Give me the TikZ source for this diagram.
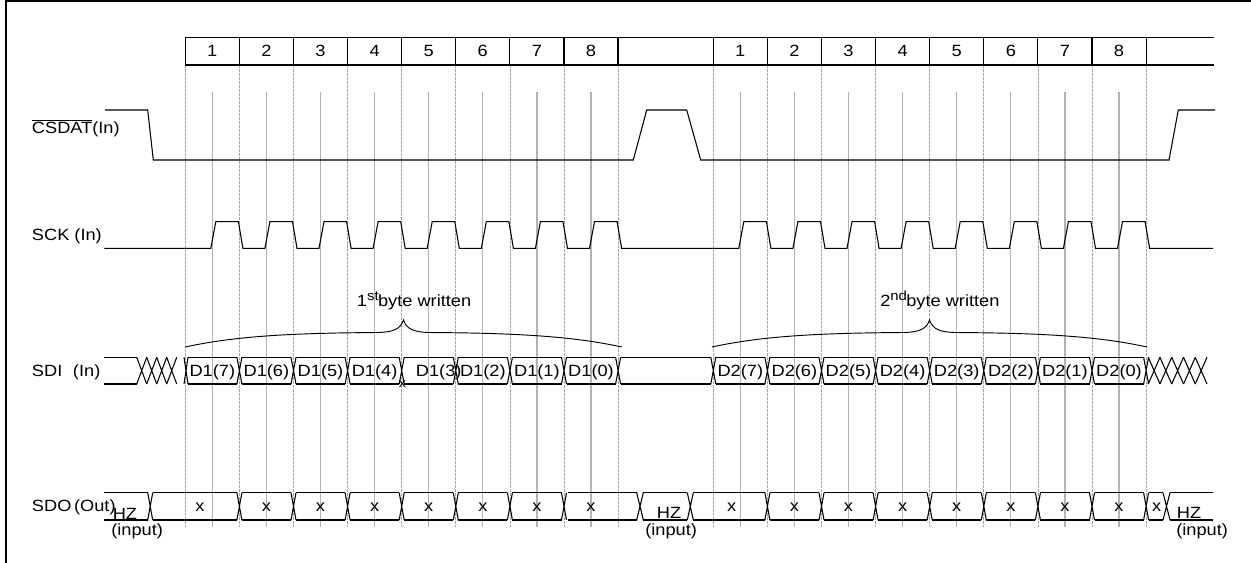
\documentclass[tikz,border=0pt]{standalone}
\usepackage{fontspec}
\setmainfont{Liberation Sans}[FakeStretch=1.12]
\usepackage{tikz}

\newcommand{\colw}{54.1}
\newcommand{\busx}[4]{\draw[sig] ({#1-#2},#3) -- ({#1+#2},#4) ({#1-#2},#4) -- ({#1+#2},#3);}
\newcommand{\buscell}[4]{\draw[sig] ({#1},#3) -- ({#2},#3) ({#1},#4) -- ({#2},#4);}
\newcommand{\ordsup}[1]{\raisebox{4.5pt}{\fontsize{10}{10}\selectfont #1}}

\tikzset{
  sig/.style={line width=0.8pt},
  gridb/.style={black!35, line width=0.5pt, dash pattern=on 2pt off 1pt},
  gridm/.style={black!30, line width=1pt},
  txt/.style={inner sep=0pt, anchor=base},
  lbl/.style={inner sep=0pt, anchor=base west},
}

\begin{document}
\begin{tikzpicture}[x=0.75pt, y=-0.75pt, font=\fontsize{12.2}{14}\selectfont]
        \useasboundingbox (0,0) rectangle (1251,563);

        % Frame
        \draw[line width=1.8pt] (6.2,563) -- (6.2,1.3) -- (1251,1.3);

        % Grid
        \foreach \st in {185.3,713.3} {
          \foreach \k in {0,...,8}
            \draw[gridb] ({\st+\colw*\k},65) -- ({\st+\colw*\k},527);
          \foreach \k in {0,...,7}
            \draw[gridm] ({\st+\colw*\k+27},92) -- ({\st+\colw*\k+27},527);
        }

        % Header
        \draw[sig] (185.3,37.7) -- (1214,37.7) (185.3,65) -- (1214,65);
        \foreach \st/\b in {185.3/1,713.3/2}
          \foreach \k [count=\n] in {0,...,7} {
            \draw[sig] ({\st+\colw*\k},37.7) -- ({\st+\colw*\k},65);
            \node[txt] (hd\b-\n) at ({\st+\colw*\k+27},56.7) {\n};
          }
        \draw[sig] (1146.1,37.7) -- (1146.1,65);
        \draw[line width=1.1pt] (618.1,37.7) rectangle (713.3,65);

        % CSDAT
        \node[lbl] (csdat) at (31.7,133.3) {$\overline{\mbox{CSDAT}}$(In)};
        \draw[sig] (105,110) -- (147.7,110) -- (153.3,160) -- (633.3,160) -- (646.7,110)
          -- (686.7,110) -- (700.7,160) -- (1169,160) -- (1178.3,110) -- (1215,110);

        % SCK
        \node[lbl] (sck) at (31.7,240) {SCK (In)};
        \draw[sig] (104.3,248.3)
          \foreach \k in {0,...,7} {-- ({185.3+\colw*\k+25.5},248.3) -- ++(5,-26.6)
            -- ({185.3+\colw*(\k+1)-1},221.7) -- ++(4.5,26.6)}
          \foreach \k in {0,...,7} {-- ({713.3+\colw*\k+25.5},248.3) -- ++(5,-26.6)
            -- ({713.3+\colw*(\k+1)-1},221.7) -- ++(4.5,26.6)}
          -- (1213,248.3);

        % Byte braces
        \foreach \l/\r in {185.3/621.7, 712/1147} {
          \pgfmathsetmacro\m{(\l+\r)/2}
          \draw[line width=0.7pt] (\l,347) .. controls (\l+50,336) and (\m-110,333) .. (\m-25,332.5)
            .. controls (\m-10,332) and (\m-3,329) .. (\m,320)
            .. controls (\m+3,329) and (\m+10,332) .. (\m+25,332.5)
            .. controls (\m+110,333) and (\r-50,336) .. (\r,347);
        }
        \node[lbl] (byte1) at (356.7,306.7) {1\ordsup{st}\hspace{-0.5pt}byte written};
        \node[lbl] (byte2) at (880,306.7) {2\ordsup{nd}\hspace{-0.5pt}byte written};

        % SDI
        \node[lbl] (sdi) at (31.7,376.7) {SDI\hspace{8pt}(In)};
        \buscell{104.3}{136.7}{357.3}{384}
        \foreach \c in {141.7,151.7,161.7,171.7} {\busx{\c}{5}{357.3}{384}}
        \busx{186}{2}{357.3}{384}
        \foreach \st in {185.3,713.3}
          \foreach \k in {0,...,7} {
            \buscell{\st+\colw*\k+2.5}{\st+\colw*(\k+1)-2.5}{357.3}{384}
            \busx{\st+\colw*(\k+1)}{2.5}{357.3}{384}
          }
        \buscell{620.6}{710.8}{357.3}{384}
        \busx{713.3}{2.5}{357.3}{384}
        \foreach \c in {1154.1,1165.8,1177.6,1189.4,1201.1} {\busx{\c}{5.9}{357.3}{384}}
        \foreach \k/\bit/\dx in {0/7/0,1/6/0,2/5/0,3/4/0,4/3/10,5/2/0,6/1/0,7/0/0} {
          \node[txt] (da\k) at ({185.3+\colw*\k+27+\dx},376.7) {D1(\bit)};
          \node[txt] (db\k) at ({713.3+\colw*\k+27},376.7) {D2(\bit)};
        }
        \node[txt, font=\fontsize{9.5}{10}\selectfont] (mark) at (402.3,387) {x};

        % SDO
        \node[lbl] (sdo) at (31.7,511.7) {SDO\hspace{2pt}(Out)};
        \buscell{104.3}{147.7}{492.7}{520}
        \busx{150.2}{2.5}{492.7}{520}
        \buscell{152.7}{236.9}{492.7}{520}
        \foreach \k in {1,...,7} {\busx{185.3+\colw*\k}{2.5}{492.7}{520}}
        \foreach \k in {1,...,6} {\buscell{185.3+\colw*\k+2.5}{185.3+\colw*(\k+1)-2.5}{492.7}{520}}
        \buscell{567.5}{636.7}{492.7}{520}
        \busx{640}{3.3}{492.7}{520}
        \buscell{643.3}{687.3}{492.7}{520}
        \busx{690.3}{3}{492.7}{520}
        \buscell{693.3}{764.9}{492.7}{520}
        \foreach \k in {1,...,8} {\busx{713.3+\colw*\k}{2.5}{492.7}{520}}
        \foreach \k in {1,...,7} {\buscell{713.3+\colw*\k+2.5}{713.3+\colw*(\k+1)-2.5}{492.7}{520}}
        \buscell{1148.6}{1163}{492.7}{520}
        \busx{1166.5}{3.5}{492.7}{520}
        \buscell{1170}{1213}{492.7}{520}

        \node[txt] (xa0) at (200,511.7) {x};
        \node[txt] (xb0) at (731.7,511.7) {x};
        \foreach \k in {1,...,7} {
          \node[txt] (xa\k) at ({185.3+\colw*\k+27},511.7) {x};
          \node[txt] (xb\k) at ({713.3+\colw*\k+27},511.7) {x};
        }
        \node[txt] (xc) at (1156.7,511.7) {x};

        \node[lbl] (hz1) at (112.5,519.3) {HZ};
        \node[lbl] (in1) at (111,535.5) {(input)};
        \node[lbl] (hz2) at (656.7,518.3) {HZ};
        \node[lbl] (in2) at (645,535.5) {(input)};
        \node[lbl] (hz3) at (1176.7,518.3) {HZ};
        \node[lbl] (in3) at (1176,535.5) {(input)};
    \end{tikzpicture}
\end{document}
